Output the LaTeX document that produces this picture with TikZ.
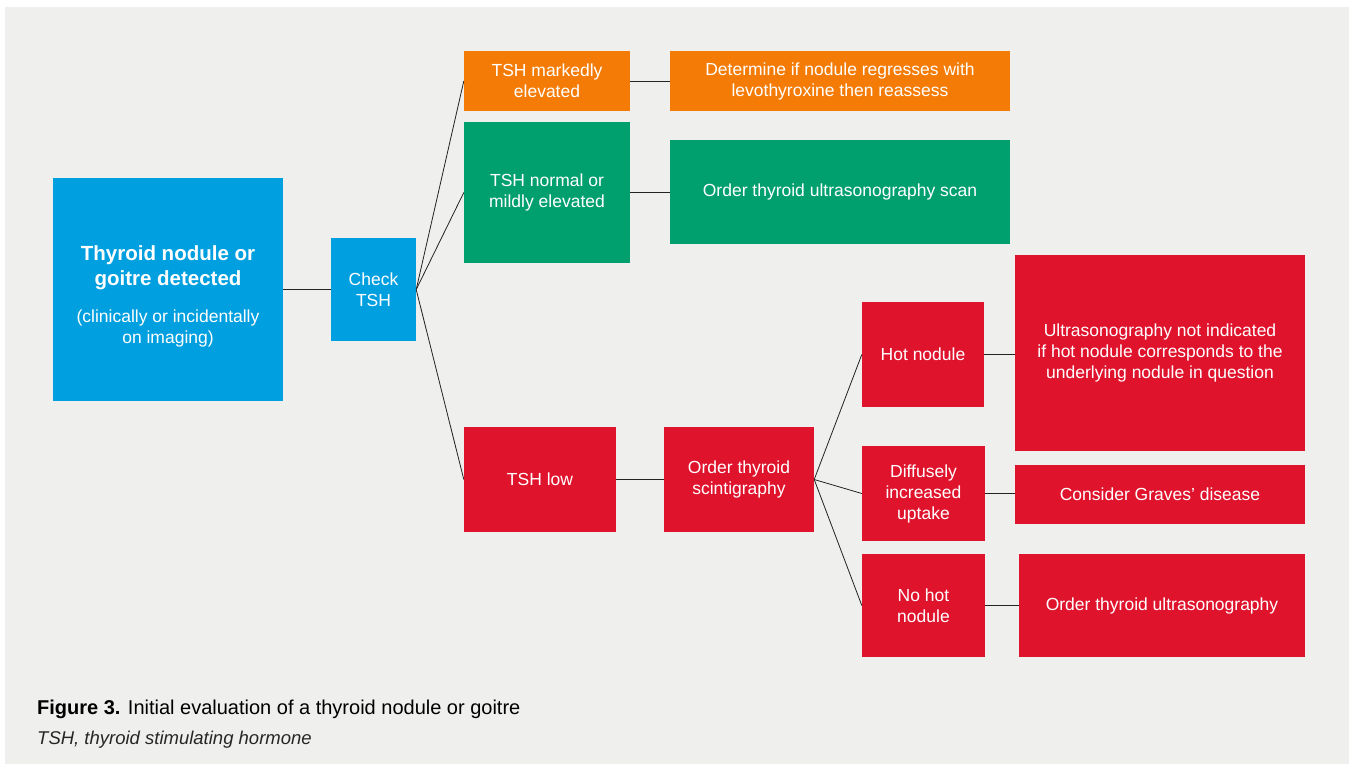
\documentclass[tikz,border=0pt]{standalone}
\usepackage{fontspec}
\setmainfont{Liberation Sans}
\definecolor{bgc}{HTML}{EFEFED}
\definecolor{cblue}{HTML}{009FDF}
\definecolor{corange}{HTML}{F47B06}
\definecolor{cgreen}{HTML}{00A06E}
\definecolor{cred}{HTML}{E0132D}
\definecolor{cline}{HTML}{222222}
\newcommand{\ttlfont}{\fontsize{20.5}{25}\selectfont\bfseries}
\newcommand{\subfont}{\fontsize{17.5}{21}\selectfont}
\begin{document}
\begin{tikzpicture}[x=1pt,y=1pt,
  box/.style={draw=none, text=white, align=center, inner sep=2pt,
    font=\fontsize{17.5}{21}\selectfont},
  conn/.style={draw=cline, line width=0.8pt}]
\useasboundingbox (0,0) rectangle (1349,-764);
\fill[white] (0,0) rectangle (1349,-764);
\fill[bgc] (5,-7) rectangle (1349,-764);
% nodes
\node[box, fill=cblue, minimum width=230, minimum height=223] (main) at (168,-289.5)
  {{\rule{0pt}{28pt}\ttlfont Thyroid nodule or}\\[4pt] {\ttlfont goitre detected}\\[16pt]
   {\subfont (clinically or incidentally}\\ {\subfont on imaging)}};
\node[box, fill=cblue, minimum width=85, minimum height=103] (check) at (373.5,-289.5) {Check\\TSH};
\node[box, fill=corange, minimum width=166, minimum height=60] (mark) at (547,-81) {TSH markedly\\elevated};
\node[box, fill=corange, minimum width=340, minimum height=60] (det) at (840,-81) {Determine if nodule regresses with\\levothyroxine then reassess};
\node[box, fill=cgreen, minimum width=166, minimum height=141] (norm) at (547,-192.5) {TSH normal or\\mildly elevated};
\node[box, fill=cgreen, minimum width=340, minimum height=104] (scan) at (840,-192) {Order thyroid ultrasonography scan};
\node[box, fill=cred, minimum width=152, minimum height=105] (low) at (540,-479.5) {TSH low};
\node[box, fill=cred, minimum width=150, minimum height=105] (scint) at (739,-479.5) {Order thyroid\\scintigraphy};
\node[box, fill=cred, minimum width=122, minimum height=105] (hot) at (923,-354.5) {Hot nodule};
\node[box, fill=cred, minimum width=290, minimum height=196] (usni) at (1160,-353) {Ultrasonography not indicated\\if hot nodule corresponds to the\\underlying nodule in question};
\node[box, fill=cred, minimum width=123, minimum height=95] (diff) at (923.5,-493.5) {Diffusely\\increased\\uptake};
\node[box, fill=cred, minimum width=290, minimum height=59] (graves) at (1160,-494.5) {Consider Graves’ disease};
\node[box, fill=cred, minimum width=123, minimum height=103] (nohot) at (923.5,-605.5) {No hot\\nodule};
\node[box, fill=cred, minimum width=286, minimum height=103] (order) at (1162,-605.5) {Order thyroid ultrasonography};
% connectors
\draw[conn] (main.east) -- (check.west);
\draw[conn] (check.east) -- (mark.west);
\draw[conn] (check.east) -- (norm.west);
\draw[conn] (check.east) -- (low.west);
\draw[conn] (mark.east) -- (mark.east -| det.west);
\draw[conn] (norm.east) -- (norm.east -| scan.west);
\draw[conn] (low.east) -- (low.east -| scint.west);
\draw[conn] (scint.east) -- (hot.west);
\draw[conn] (scint.east) -- (diff.west);
\draw[conn] (scint.east) -- (nohot.west);
\draw[conn] (hot.east) -- (hot.east -| usni.west);
\draw[conn] (diff.east) -- (diff.east -| graves.west);
\draw[conn] (nohot.east) -- (nohot.east -| order.west);
% caption
\node[anchor=base west, inner sep=0pt, font=\fontsize{20}{24}\selectfont, text=black] (cap1) at (37,-714)
  {\textbf{Figure 3.} Initial evaluation of a thyroid nodule or goitre};
\node[anchor=base west, inner sep=0pt, font=\fontsize{18.5}{22}\selectfont\itshape, text=black!85] (cap2) at (37,-744)
  {TSH, thyroid stimulating hormone};
\end{tikzpicture}
\end{document}
